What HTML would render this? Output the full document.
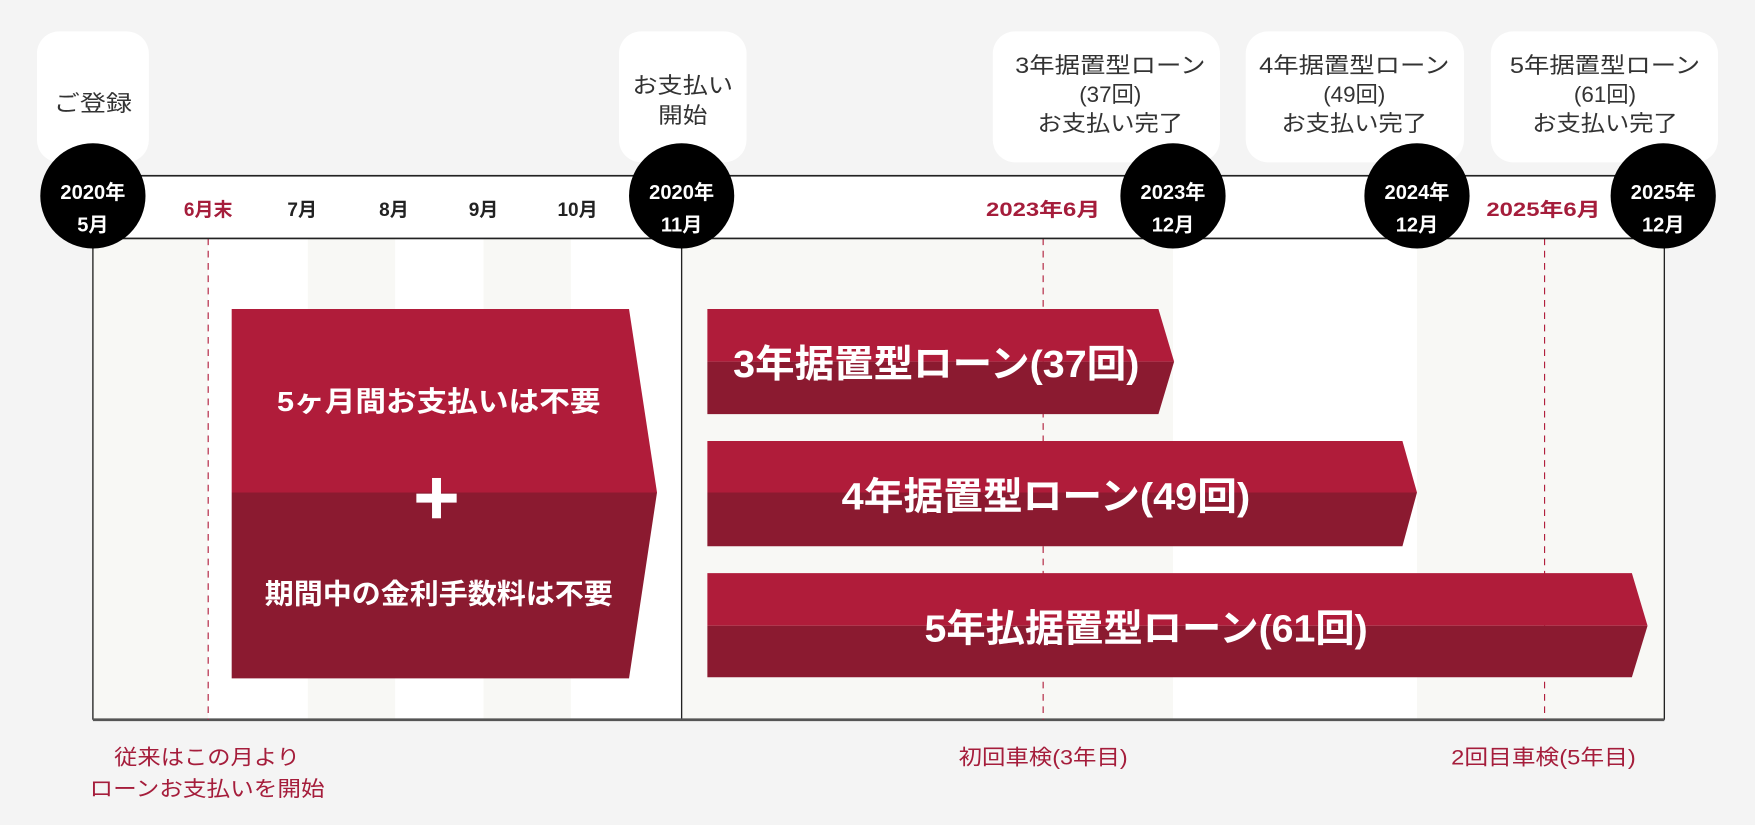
<!DOCTYPE html>
<html><head><meta charset="utf-8"><style>
html,body{margin:0;padding:0;background:#f4f4f4;}
svg{display:block;font-family:"Liberation Sans","Noto Sans CJK JP",sans-serif;}
</style></head><body>
<svg width="1755" height="825" viewBox="0 0 1568 737" preserveAspectRatio="none" xmlns="http://www.w3.org/2000/svg">
<rect width="1568" height="737" fill="#f4f4f4"/>
<rect x="83" y="213" width="1404" height="430" fill="#f8f8f5"/>
<rect x="186" y="213" width="89" height="430" fill="#fff"/>
<rect x="353" y="213" width="79" height="430" fill="#fff"/>
<rect x="510" y="213" width="99" height="430" fill="#fff"/>
<rect x="1048" y="213" width="218" height="430" fill="#fff"/>
<line x1="83" y1="213" x2="83" y2="643" stroke="#222" stroke-width="1.2"/>
<line x1="1487" y1="213" x2="1487" y2="643" stroke="#222" stroke-width="1.2"/>
<line x1="609" y1="213" x2="609" y2="643" stroke="#222" stroke-width="1.2"/>
<line x1="83" y1="643" x2="1487" y2="643" stroke="#555" stroke-width="2.5"/>
<g stroke="#b01c3a" stroke-width="1" stroke-dasharray="6,5">
<line x1="186" y1="213" x2="186" y2="643"/>
<line x1="932" y1="213" x2="932" y2="643"/>
<line x1="1380" y1="213" x2="1380" y2="643"/>
</g>
<rect x="83" y="157" width="1404" height="56" fill="#fff" stroke="#222" stroke-width="1.5"/>
<g fill="#fff">
<rect x="33" y="28" width="100" height="117" rx="20"/>
<rect x="553" y="28" width="114" height="117" rx="20"/>
<rect x="887" y="28" width="203" height="117" rx="20"/>
<rect x="1113" y="28" width="195" height="117" rx="20"/>
<rect x="1332" y="28" width="203" height="117" rx="20"/>
</g>
<g fill="#333" font-size="20" text-anchor="middle" lengthAdjust="spacingAndGlyphs">
<text x="83" y="99" textLength="70" lengthAdjust="spacingAndGlyphs">ご登録</text>
<text x="610" y="83" textLength="90" lengthAdjust="spacingAndGlyphs">お支払い</text>
<text x="610" y="110" textLength="44" lengthAdjust="spacingAndGlyphs">開始</text>
<text x="992" y="65" textLength="170" lengthAdjust="spacingAndGlyphs">3年据置型ローン</text>
<text x="992" y="91">(37回)</text>
<text x="992" y="117" textLength="130" lengthAdjust="spacingAndGlyphs">お支払い完了</text>
<text x="1210" y="65" textLength="170" lengthAdjust="spacingAndGlyphs">4年据置型ローン</text>
<text x="1210" y="91">(49回)</text>
<text x="1210" y="117" textLength="130" lengthAdjust="spacingAndGlyphs">お支払い完了</text>
<text x="1434" y="65" textLength="170" lengthAdjust="spacingAndGlyphs">5年据置型ローン</text>
<text x="1434" y="91">(61回)</text>
<text x="1434" y="117" textLength="130" lengthAdjust="spacingAndGlyphs">お支払い完了</text>
</g>
<g font-size="17" text-anchor="middle" font-weight="bold">
<text x="186" y="193" fill="#a51d3b">6月末</text>
<text x="270" y="193" fill="#222">7月</text>
<text x="352" y="193" fill="#222">8月</text>
<text x="432" y="193" fill="#222">9月</text>
<text x="516" y="193" fill="#222">10月</text>
<text x="932" y="193" fill="#a51d3b" textLength="102" lengthAdjust="spacingAndGlyphs">2023年6月</text>
<text x="1379" y="193" fill="#a51d3b" textLength="102" lengthAdjust="spacingAndGlyphs">2025年6月</text>
</g>
<g fill="#000">
<circle cx="83" cy="175" r="47"/>
<circle cx="609" cy="175" r="47"/>
<circle cx="1048" cy="175" r="47"/>
<circle cx="1266" cy="175" r="47"/>
<circle cx="1486" cy="175" r="47"/>
</g>
<g fill="#fff" font-size="18" text-anchor="middle" font-weight="bold">
<text x="83" y="178">2020年</text><text x="83" y="207">5月</text>
<text x="609" y="178">2020年</text><text x="609" y="207">11月</text>
<text x="1048" y="178">2023年</text><text x="1048" y="207">12月</text>
<text x="1266" y="178">2024年</text><text x="1266" y="207">12月</text>
<text x="1486" y="178">2025年</text><text x="1486" y="207">12月</text>
</g>
<polygon points="207,276 562,276 587,440 207,440" fill="#b01c3a"/>
<polygon points="207,440 587,440 562,606 207,606" fill="#8b1a30"/>
<g fill="#fff" font-weight="bold" text-anchor="middle">
<text x="392" y="367" font-size="25" textLength="289" lengthAdjust="spacingAndGlyphs">5ヶ月間お支払いは不要</text>
<text x="392" y="539" font-size="25" textLength="311" lengthAdjust="spacingAndGlyphs">期間中の金利手数料は不要</text>
</g>
<rect x="372" y="441" width="36" height="8" fill="#fff"/>
<rect x="386" y="427" width="8" height="36" fill="#fff"/>
<polygon points="632,276 1035,276 1049,323 632,323" fill="#b01c3a"/>
<polygon points="632,323 1049,323 1035,370 632,370" fill="#8b1a30"/>
<polygon points="632,394 1253,394 1266,440 632,440" fill="#b01c3a"/>
<polygon points="632,440 1266,440 1253,488 632,488" fill="#8b1a30"/>
<polygon points="632,512 1458,512 1472,559 632,559" fill="#b01c3a"/>
<polygon points="632,559 1472,559 1458,605 632,605" fill="#8b1a30"/>
<g fill="#fff" font-weight="bold" font-size="34">
<text x="655" y="337" textLength="363" lengthAdjust="spacingAndGlyphs">3年据置型ローン(37回)</text>
<text x="752" y="455" textLength="365" lengthAdjust="spacingAndGlyphs">4年据置型ローン(49回)</text>
<text x="826" y="573" textLength="396" lengthAdjust="spacingAndGlyphs">5年払据置型ローン(61回)</text>
</g>
<g fill="#a51d3b" font-size="19" text-anchor="middle">
<text x="185" y="683" textLength="166" lengthAdjust="spacingAndGlyphs">従来はこの月より</text>
<text x="185" y="711" textLength="210" lengthAdjust="spacingAndGlyphs">ローンお支払いを開始</text>
<text x="932" y="683" textLength="151" lengthAdjust="spacingAndGlyphs">初回車検(3年目)</text>
<text x="1379" y="683" textLength="165" lengthAdjust="spacingAndGlyphs">2回目車検(5年目)</text>
</g>
</svg>
</body></html>
